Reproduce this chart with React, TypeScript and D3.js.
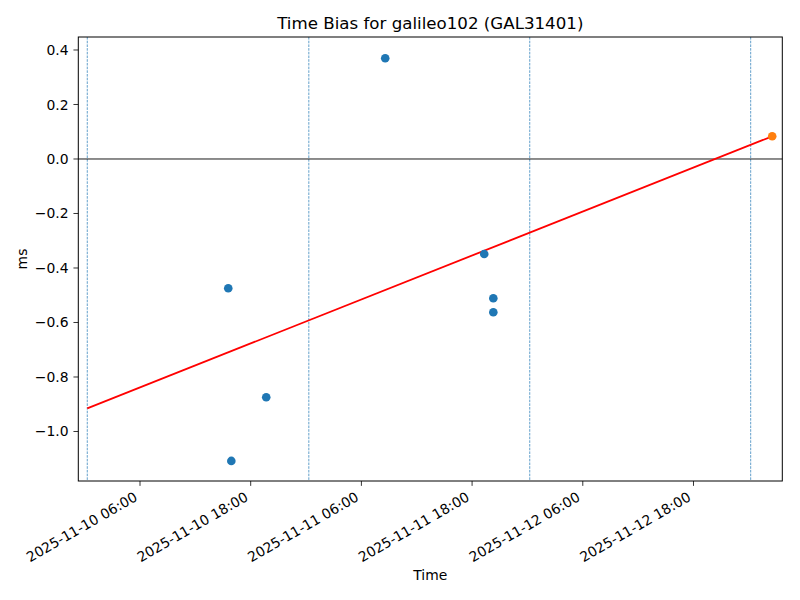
import React from "react";
import * as d3 from "d3";

// ---- data ----
const pointTimes: string[] = [
  "2025-11-10T15:34:00Z",
  "2025-11-10T15:54:00Z",
  "2025-11-10T19:41:00Z",
  "2025-11-11T08:35:00Z",
  "2025-11-11T19:19:00Z",
  "2025-11-11T20:18:00Z",
  "2025-11-11T20:18:00Z",
];
const pointValues: number[] = [-0.4745, -1.108, -0.8745, 0.3695, -0.3486, -0.511, -0.5626];

const predTime = "2025-11-13T02:32:00Z";
const predValue = 0.0833;

const fitTimes: string[] = ["2025-11-10T00:17:00Z", "2025-11-13T02:32:00Z"];
const fitValues: number[] = [-0.915, 0.0833];

const dayLines: string[] = [
  "2025-11-10T00:17:00Z",
  "2025-11-11T00:18:00Z",
  "2025-11-12T00:15:00Z",
  "2025-11-13T00:12:00Z",
];

const xTicks: string[] = [
  "2025-11-10T06:00:00Z",
  "2025-11-10T18:00:00Z",
  "2025-11-11T06:00:00Z",
  "2025-11-11T18:00:00Z",
  "2025-11-12T06:00:00Z",
  "2025-11-12T18:00:00Z",
];
const yTicks: number[] = [-1.0, -0.8, -0.6, -0.4, -0.2, 0.0, 0.2, 0.4];

const xDomain: string[] = ["2025-11-09T23:18:40Z", "2025-11-13T03:37:40Z"];
const yDomain: number[] = [-1.1817, 0.4477];

const title = "Time Bias for galileo102 (GAL31401)";

export default function App() {
  const W = 800, H = 600;
  const L = 78.3, R = 782.3, T = 37, B = 481;
  const x = d3.scaleUtc().domain(xDomain.map((s) => new Date(s))).range([L, R]);
  const y = d3.scaleLinear().domain(yDomain).range([B, T]);
  const font = "'DejaVu Sans', sans-serif";
  const fmtTick = d3.utcFormat("%Y-%m-%d %H:%M");
  const fmtY = (v: number) => v.toFixed(1).replace("-", "\u2212");
  const line = d3
    .line<number>()
    .x((_, i) => x(new Date(fitTimes[i])))
    .y((v) => y(v));
  const tl = 4.86;
  const fs = 13.9;
  return (
    <svg
      width={W}
      height={H}
      style={{ position: "absolute", left: 0, top: 0, background: "#fff" }}
      fontFamily={font}
    >
      <rect x={0} y={0} width={W} height={H} fill="#fff" />
      {/* day lines */}
      {dayLines.map((d, i) => (
        <line
          key={i}
          x1={x(new Date(d))}
          x2={x(new Date(d))}
          y1={T}
          y2={B}
          stroke="#1f77b4"
          strokeWidth={0.7}
          strokeDasharray="2.6,1.1"
        />
      ))}
      {/* zero line */}
      <line x1={L} x2={R} y1={y(0)} y2={y(0)} stroke="#000" strokeWidth={0.9} />
      {/* fit */}
      <path d={line(fitValues) || ""} fill="none" stroke="#ff0000" strokeWidth={1.8} />
      {/* points */}
      {pointValues.map((v, i) => (
        <circle key={i} cx={x(new Date(pointTimes[i]))} cy={y(v)} r={4.3} fill="#1f77b4" />
      ))}
      <circle cx={x(new Date(predTime))} cy={y(predValue)} r={4.3} fill="#ff7f0e" />
      {/* frame */}
      <rect x={L} y={T} width={R - L} height={B - T} fill="none" stroke="#000" strokeWidth={1} />
      {/* y ticks */}
      {yTicks.map((v, i) => (
        <g key={i}>
          <line x1={L - tl} x2={L} y1={y(v)} y2={y(v)} stroke="#000" strokeWidth={0.8} />
          <text
            x={L - tl - 4.86}
            y={y(v)}
            dy="0.36em"
            textAnchor="end"
            fontSize={fs}
            fill="#000"
          >
            {fmtY(v)}
          </text>
        </g>
      ))}
      {/* x ticks */}
      {xTicks.map((t, i) => {
        const px = x(new Date(t));
        const ax = px - 1.6;
        const ay = B + tl + 4.86 + 9.2;
        return (
          <g key={i}>
            <line x1={px} x2={px} y1={B} y2={B + tl} stroke="#000" strokeWidth={0.8} />
            <text
              x={ax}
              y={ay}
              textAnchor="end"
              fontSize={fs}
              fill="#000"
              transform={`rotate(-30 ${ax} ${ay})`}
            >
              {fmtTick(new Date(t))}
            </text>
          </g>
        );
      })}
      {/* labels */}
      <text x={(L + R) / 2} y={28.7} textAnchor="middle" fontSize={16.67} fill="#000">
        {title}
      </text>
      <text x={(L + R) / 2} y={580} textAnchor="middle" fontSize={fs} fill="#000">
        Time
      </text>
      <text
        x={26.5}
        y={(T + B) / 2}
        textAnchor="middle"
        fontSize={fs}
        fill="#000"
        transform={`rotate(-90 26.5 ${(T + B) / 2})`}
      >
        ms
      </text>
    </svg>
  );
}
